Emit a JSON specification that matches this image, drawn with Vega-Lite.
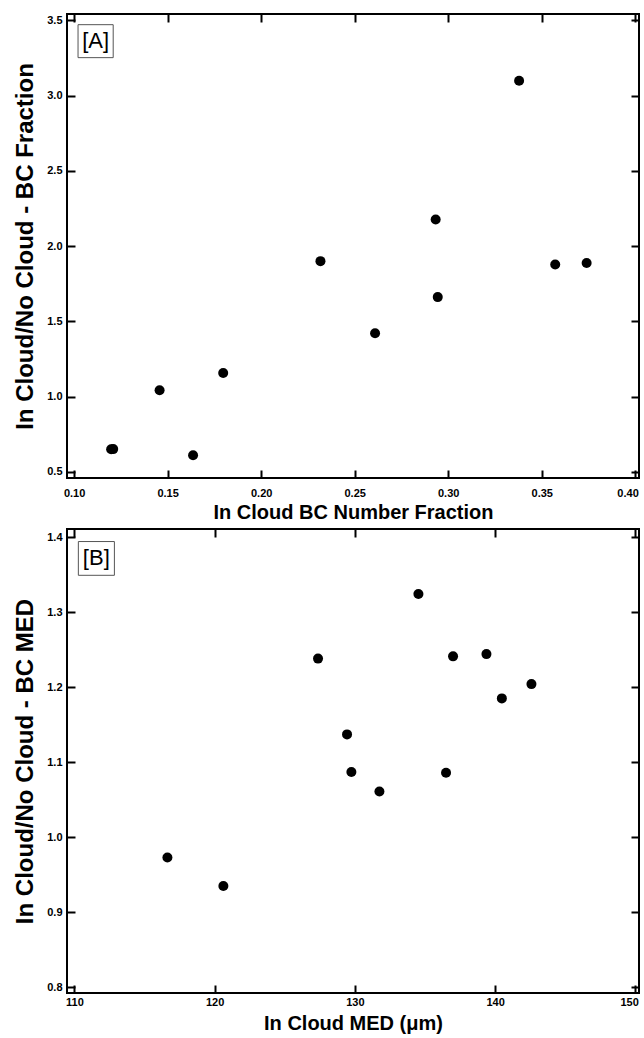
{
  "$schema": "https://vega.github.io/schema/vega-lite/v6.json",
  "padding": {"left": 12, "top": 12, "right": 0, "bottom": 0},
  "background": "white",
  "spacing": 4,
  "config": {
    "font": "Liberation Sans",
    "view": {"stroke": "black", "strokeWidth": 2},
    "axis": {
      "domain": false, "grid": false, "ticks": true, "tickSize": -8, "tickWidth": 2, "tickColor": "black",
      "labelFont": "Liberation Sans", "labelFontWeight": "bold", "labelFontSize": 11, "labelColor": "black",
      "titleFont": "Liberation Sans", "titleFontWeight": "bold", "titleFontSize": 20, "titleColor": "black"
    },
    "axisBottom": {"labelPadding": 17, "titlePadding": 4, "labelFlush": 5, "labelFlushOffset": 3},
    "axisLeft": {"labelPadding": 13, "titlePadding": 9, "titleFontSize": 24}
  },
  "datasets": {
    "a": [
      {"frac": 0.1198, "ratio": 0.651}, {"frac": 0.1209, "ratio": 0.652}, {"frac": 0.1457, "ratio": 1.043},
      {"frac": 0.1636, "ratio": 0.611}, {"frac": 0.1797, "ratio": 1.158}, {"frac": 0.2317, "ratio": 1.901},
      {"frac": 0.2609, "ratio": 1.422}, {"frac": 0.2933, "ratio": 2.178}, {"frac": 0.2944, "ratio": 1.662},
      {"frac": 0.3379, "ratio": 3.100}, {"frac": 0.3572, "ratio": 1.878}, {"frac": 0.3740, "ratio": 1.888}
    ],
    "b": [
      {"med": 116.63, "ratio": 0.973}, {"med": 120.62, "ratio": 0.935}, {"med": 127.37, "ratio": 1.238},
      {"med": 129.44, "ratio": 1.137}, {"med": 129.75, "ratio": 1.087}, {"med": 131.75, "ratio": 1.061},
      {"med": 134.53, "ratio": 1.324}, {"med": 136.5, "ratio": 1.086}, {"med": 137.0, "ratio": 1.241},
      {"med": 139.38, "ratio": 1.244}, {"med": 140.48, "ratio": 1.185}, {"med": 142.59, "ratio": 1.204}
    ]
  },
  "vconcat": [
    {
      "width": 572, "height": 464,
      "layer": [
        {
          "data": {"name": "a"},
          "mark": {"type": "point", "filled": true, "color": "black", "size": 100, "opacity": 1, "strokeWidth": 0},
          "encoding": {
            "x": {"field": "frac", "type": "quantitative",
                  "scale": {"domain": [0.0962, 0.402], "nice": false, "zero": false},
                  "axis": {"orient": "bottom", "values": [0.1, 0.15, 0.2, 0.25, 0.3, 0.35, 0.4], "format": ".2f", "title": "In Cloud BC Number Fraction"}},
            "y": {"field": "ratio", "type": "quantitative",
                  "scale": {"domain": [0.46, 3.543], "nice": false, "zero": false},
                  "axis": {"orient": "left", "values": [0.5, 1, 1.5, 2, 2.5, 3, 3.5], "format": ".1f", "title": "In Cloud/No Cloud - BC Fraction"}}
          }
        },
        {
          "data": {"name": "a"},
          "mark": {"type": "point", "opacity": 0},
          "encoding": {
            "x": {"field": "frac", "type": "quantitative",
                  "axis": {"orient": "top", "values": [0.1, 0.15, 0.2, 0.25, 0.3, 0.35, 0.4], "labels": false, "title": null}},
            "y": {"field": "ratio", "type": "quantitative",
                  "axis": {"orient": "right", "values": [0.5, 1, 1.5, 2, 2.5, 3, 3.5], "labels": false, "title": null}}
          }
        },
        {
          "data": {"values": [{}]},
          "mark": {"type": "rect", "fillOpacity": 0, "stroke": "#555555", "strokeWidth": 1},
          "encoding": {
            "x": {"datum": 0.1021, "type": "quantitative", "axis": null},
            "x2": {"datum": 0.1209},
            "y": {"datum": 3.472, "type": "quantitative", "axis": null},
            "y2": {"datum": 3.253}
          }
        },
        {
          "data": {"values": [{}]},
          "mark": {"type": "text", "text": "[A]", "font": "Liberation Sans", "fontSize": 22, "align": "center", "baseline": "middle", "color": "black"},
          "encoding": {
            "x": {"datum": 0.1115, "type": "quantitative", "axis": null},
            "y": {"datum": 3.362, "type": "quantitative", "axis": null}
          }
        }
      ],
      "resolve": {"axis": {"x": "independent", "y": "independent"}}
    },
    {
      "width": 572, "height": 464,
      "layer": [
        {
          "data": {"name": "b"},
          "mark": {"type": "point", "filled": true, "color": "black", "size": 100, "opacity": 1, "strokeWidth": 0},
          "encoding": {
            "x": {"field": "med", "type": "quantitative",
                  "scale": {"domain": [109.47, 150.26], "nice": false, "zero": false},
                  "axis": {"orient": "bottom", "values": [110, 120, 130, 140, 150], "format": "d", "title": "In Cloud MED (μm)", "labelPadding": 11, "titlePadding": 6}},
            "y": {"field": "ratio", "type": "quantitative",
                  "scale": {"domain": [0.7924, 1.4107], "nice": false, "zero": false},
                  "axis": {"orient": "left", "values": [0.8, 0.9, 1.0, 1.1, 1.2, 1.3, 1.4], "format": ".1f", "title": "In Cloud/No Cloud - BC MED"}}
          }
        },
        {
          "data": {"name": "b"},
          "mark": {"type": "point", "opacity": 0},
          "encoding": {
            "x": {"field": "med", "type": "quantitative",
                  "axis": {"orient": "top", "values": [110, 120, 130, 140, 150], "labels": false, "title": null}},
            "y": {"field": "ratio", "type": "quantitative",
                  "axis": {"orient": "right", "values": [0.8, 0.9, 1.0, 1.1, 1.2, 1.3, 1.4], "labels": false, "title": null}}
          }
        },
        {
          "data": {"values": [{}]},
          "mark": {"type": "rect", "fillOpacity": 0, "stroke": "#555555", "strokeWidth": 1},
          "encoding": {
            "x": {"datum": 110.28, "type": "quantitative", "axis": null},
            "x2": {"datum": 112.85},
            "y": {"datum": 1.394, "type": "quantitative", "axis": null},
            "y2": {"datum": 1.349}
          }
        },
        {
          "data": {"values": [{}]},
          "mark": {"type": "text", "text": "[B]", "font": "Liberation Sans", "fontSize": 22, "align": "center", "baseline": "middle", "color": "black"},
          "encoding": {
            "x": {"datum": 111.56, "type": "quantitative", "axis": null},
            "y": {"datum": 1.3715, "type": "quantitative", "axis": null}
          }
        }
      ],
      "resolve": {"axis": {"x": "independent", "y": "independent"}}
    }
  ]
}
